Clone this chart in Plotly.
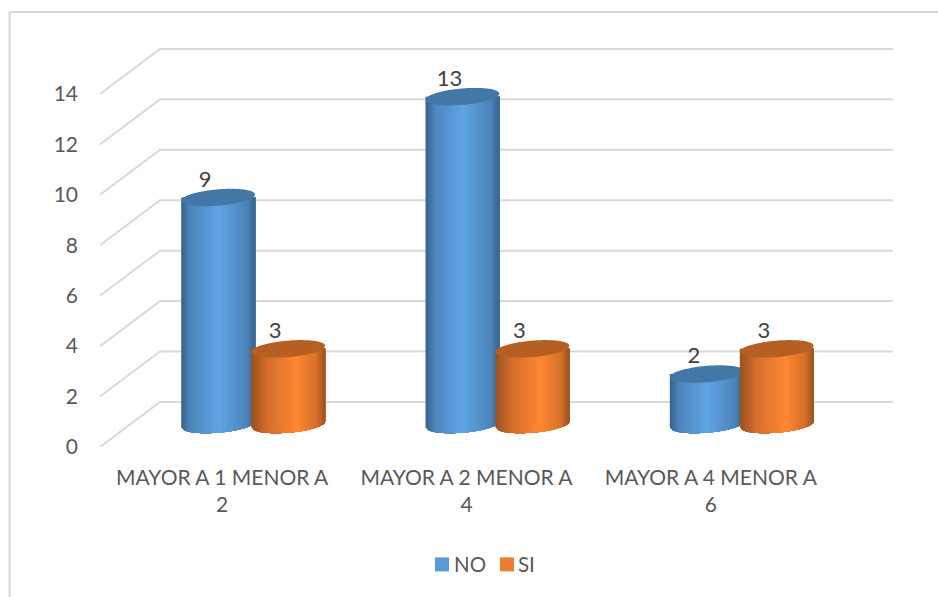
import plotly.graph_objects as go

categories = ["MAYOR A 1 MENOR A<br>2", "MAYOR A 2 MENOR A<br>4", "MAYOR A 4 MENOR A<br>6"]
no_values = [9, 13, 2]
si_values = [3, 3, 3]
y_ticks = [0, 2, 4, 6, 8, 10, 12, 14]

W, H = 938, 597
FONT = "Lato"
# pixel geometry of the plot rectangle
L, R, T, B = 100.0, 893.0, 20.0, 446.7
PX_X = 244.3   # px per category
PX_Y = 25.2    # px per value unit
DX = 60 / PX_X   # depth of the floor in data units
DY = 45 / PX_Y
x0 = -(222.2 - L) / PX_X
x_range = [x0, x0 + (R - L) / PX_X]
y_range = [0, (B - T) / PX_Y]

RAD_X = 37 / PX_X
TILT = 3.0 / PX_Y
RAD_Y = 8.2 / PX_Y
OFFSETS = {"NO": -34 / PX_X, "SI": 36 / PX_X}   # from mid-depth position
N_STRIPS = 37

BLUE = "#5B9BD5"
ORANGE = "#ED7D31"
blue_stops = [(0, (56, 98, 138)), (0.12, (76, 132, 186)), (0.5, (95, 165, 228)), (0.88, (76, 132, 186)), (1, (56, 98, 138))]
orange_stops = [(0, (150, 80, 32)), (0.22, (214, 110, 44)), (0.62, (255, 135, 50)), (0.88, (214, 112, 42)), (1, (150, 82, 32))]
BLUE_TOP = "#4377A8"
ORANGE_TOP = "#B55F22"


def mix(stops, t):
    for (a, ca), (b, cb) in zip(stops, stops[1:]):
        if t <= b:
            k = (t - a) / (b - a)
            return "rgb(%d,%d,%d)" % tuple(round(p + (q - p) * k) for p, q in zip(ca, cb))
    return "rgb(%d,%d,%d)" % stops[-1][1]


def lower_arc(u):
    # u in [-1, 1]: horizontal position across the cylinder; returns data-y offset of the nearer rim
    return TILT * u - RAD_Y * max(0.0, 1 - u * u) ** 0.5


fig = go.Figure()

# real bars (hidden behind the cylinder surfaces)
xc = list(range(len(categories)))
for name, vals, col in (("NO", no_values, BLUE), ("SI", si_values, ORANGE)):
    fig.add_trace(go.Bar(
        x=[i + DX / 2 + OFFSETS[name] for i in xc], y=vals, base=[DY / 2] * len(vals), name=name,
        width=1.6 * RAD_X, marker=dict(color=col, line=dict(color=col, width=0)), hoverinfo="skip",
        showlegend=False,
    ))

# walls and floor lines
gx, gy = [], []
for v in y_ticks:
    gx += [x_range[0], x_range[0] + DX, x_range[1], None]
    gy += [v, v + DY, v + DY, None]
fig.add_trace(go.Scatter(x=gx, y=gy, mode="lines", line=dict(color="#D9D9D9", width=2),
                         showlegend=False, hoverinfo="skip"))


def cylinder(cx, value, stops, top_color):
    base = DY / 2
    top = base + value
    # painter's order: every strip reaches to the right edge, the next one covers it
    for k in range(N_STRIPS):
        u0 = -1 + 2 * k / N_STRIPS
        c = mix(stops, (k + 0.5) / N_STRIPS)
        us = [u0 + (1 - u0) * j / 24 for j in range(25)]
        xs = [cx + u * RAD_X for u in us] + [cx + RAD_X, cx + u0 * RAD_X]
        ys = [base + lower_arc(u) for u in us] + [top, top]
        fig.add_trace(go.Scatter(x=xs, y=ys, mode="none", fill="toself", fillcolor=c,
                                 showlegend=False, hoverinfo="skip"))
    n = 60
    ex, ey = [], []
    for k in range(n + 1):
        u = -1 + 2 * k / n
        ex.append(cx + u * RAD_X)
        ey.append(top + lower_arc(u))
    for k in range(n + 1):
        u = 1 - 2 * k / n
        ex.append(cx + u * RAD_X)
        ey.append(top + 2 * TILT * u - lower_arc(u))
    fig.add_trace(go.Scatter(x=ex, y=ey, mode="none", fill="toself", fillcolor=top_color,
                             showlegend=False, hoverinfo="skip"))
    return top


labels = []
for i in xc:
    for name, vals, stops, tc in (("NO", no_values, blue_stops, BLUE_TOP), ("SI", si_values, orange_stops, ORANGE_TOP)):
        cx = i + DX / 2 + OFFSETS[name]
        top = cylinder(cx, vals[i], stops, tc)
        labels.append((cx - 13 / PX_X, top + 16.5 / PX_Y, str(vals[i])))

fig.add_trace(go.Scatter(
    x=[a[0] for a in labels], y=[a[1] for a in labels], text=[a[2] for a in labels],
    mode="text", textposition="middle center", textfont=dict(family=FONT, size=22, color="#404040"),
    showlegend=False, hoverinfo="skip", cliponaxis=False,
))

# outer chart frame and legend, positioned in page pixels
plot_w = R - L
plot_h = B - T
def px(x): return (x - L) / plot_w
def py(y): return (B - y) / plot_h

frame_line = dict(color="#D9D9D9", width=2)
shapes = [
    dict(type="line", xref="paper", yref="paper", x0=px(9.5), x1=px(938), y0=py(12), y1=py(12), line=frame_line, layer="below"),
    dict(type="line", xref="paper", yref="paper", x0=px(9.5), x1=px(9.5), y0=py(12), y1=py(597), line=frame_line, layer="below"),
]
annotations = []
for name, col, sw, tx in (("NO", BLUE, 435, 455), ("SI", ORANGE, 500, 519)):
    shapes.append(dict(type="rect", xref="paper", yref="paper", x0=px(sw), x1=px(sw + 14), y0=py(571), y1=py(557),
                       fillcolor=col, line=dict(width=0)))
    annotations.append(dict(text=name, xref="paper", yref="paper", x=px(tx), y=py(564), xanchor="left", yanchor="middle",
                            showarrow=False, xshift=-3, font=dict(family=FONT, size=20.5, color="#595959")))

fig.update_layout(
    width=W, height=H, paper_bgcolor="white", plot_bgcolor="rgba(0,0,0,0)",
    margin=dict(l=L, r=W - R, t=T, b=H - B, pad=0), autosize=False,
    barmode="overlay", shapes=shapes, annotations=annotations, showlegend=False,
    font=dict(family=FONT, size=21, color="#595959"),
    xaxis=dict(range=x_range, tickmode="array", tickvals=xc, ticktext=categories, showgrid=False, zeroline=False,
               showline=False, ticks="", tickfont=dict(family=FONT, size=21, color="#595959"), ticklabelstandoff=16),
    yaxis=dict(range=y_range, tickmode="array", tickvals=y_ticks, showgrid=False, zeroline=False, showline=False,
               ticks="", tickfont=dict(family=FONT, size=21, color="#595959"), ticklabelstandoff=21),
)
fig.write_html("out.html", config={"displayModeBar": False}, post_script="document.body.style.margin='0';")
